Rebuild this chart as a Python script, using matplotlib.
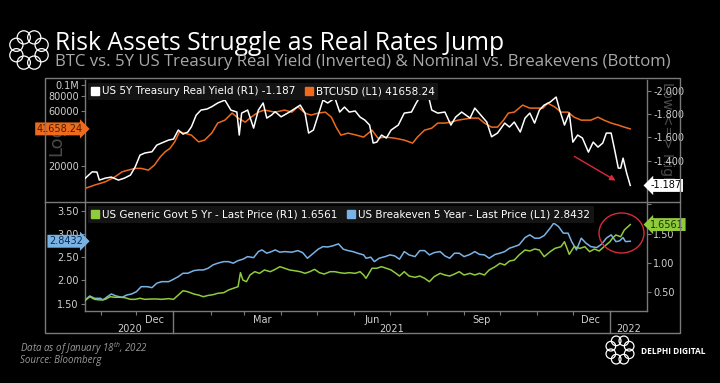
import numpy as np
import pandas as pd
import matplotlib.pyplot as plt
import matplotlib.transforms as mtransforms
from matplotlib.patches import Rectangle, Ellipse, Circle
from matplotlib.lines import Line2D

# ---- data (day offsets from 2020-10-19) ----
START = pd.Timestamp('2020-10-19')

ry_days = [0, 6, 10, 12, 17, 22, 28, 33, 38, 42, 46, 50, 56, 60, 64, 70, 74, 78, 82, 86,
           89, 93, 97, 102, 106, 111, 117, 122, 127, 129, 131, 136, 141, 145, 149, 152, 156,
           159, 164, 171, 180, 184, 187, 191, 195, 199, 203, 209, 213, 217, 221, 226, 230, 234,
           238, 241, 244, 248, 252, 256, 262, 267, 273, 277, 281, 287, 290, 295, 301, 306, 310,
           315, 322, 326, 331, 336, 340, 345, 351, 355, 359, 364, 368, 372, 376, 380, 384, 389,
           394, 397, 401, 405, 408, 412, 416, 421, 425, 429, 433, 436, 440, 443, 446, 448, 450,
           453, 456]
real_yield = [-1.247, -1.304, -1.302, -1.233, -1.25, -1.259, -1.233, -1.25, -1.276, -1.347,
              -1.448, -1.466, -1.477, -1.534, -1.552, -1.578, -1.586, -1.664, -1.629, -1.647,
              -1.692, -1.793, -1.836, -1.845, -1.865, -1.897, -1.922, -1.836, -1.819, -1.621,
              -1.810, -1.836, -1.681, -1.836, -1.897, -1.767, -1.793,
              -1.822, -1.778, -1.819, -1.879, -1.810, -1.638, -1.664, -1.793, -1.922, -1.897,
              -1.940, -1.819, -1.862, -1.819, -1.828, -1.776, -1.750, -1.707, -1.552, -1.560,
              -1.621, -1.595, -1.664, -1.707, -1.810, -1.819, -1.897, -1.966, -1.966, -1.836,
              -1.810, -1.819, -1.707, -1.776, -1.819,
              -1.767, -1.853, -1.793, -1.733, -1.606, -1.638, -1.724, -1.690, -1.733, -1.647,
              -1.767, -1.810, -1.724, -1.836, -1.879, -1.905, -1.948, -1.836, -1.707, -1.810,
              -1.560, -1.621, -1.595, -1.474, -1.560, -1.517, -1.552, -1.638, -1.638, -1.491,
              -1.336, -1.336, -1.422, -1.293, -1.187]

btc_days = [0, 8, 17, 25, 31, 36, 42, 47, 53, 58, 63, 67, 71, 75, 79, 84, 89, 95, 100, 106,
            111, 117, 123, 128, 134, 139, 145, 150, 159,
            167, 173, 178, 184, 189, 195, 201, 206, 210, 214, 220, 227, 233, 240, 245, 251, 259,
            267, 274, 278, 284, 290, 295, 301, 306, 312,
            323, 329, 334, 340, 345, 350, 354, 359, 366, 372, 377, 383, 387, 393, 398, 404, 409,
            415, 423, 429, 434, 440, 446, 451, 456]
btc = [12760, 13650, 14560, 16070, 17750, 18370, 19010, 19010, 18370, 20280, 23930, 26420,
       28250, 32210, 39280, 38110, 36810, 32210, 33340, 38300, 46770, 49560, 57020, 51640,
       47640, 52620, 58110, 60530, 58110,
       60530, 58110, 64580, 57020, 54800, 57020, 58110, 52620, 43150, 36810, 38300, 36810,
       35400, 40640, 34670, 35400, 34670, 33340, 31410, 35400, 40640, 42280, 46770, 46770,
       47640, 49560,
       51640, 51640, 46770, 43150, 43150, 49560, 57020, 58110, 66800, 62950, 62950, 62950,
       69450, 64270, 58110, 58110, 52620, 49560, 49560, 52620, 49560, 46770, 44900, 43150,
       41658.24]

be_days = [0, 4, 8, 13, 15, 18, 22, 26, 31, 35, 39, 43, 47, 52, 56, 60, 64, 70, 74, 78,
           82, 86, 91, 95, 99, 103, 107, 111, 116, 120, 124, 128, 132, 136, 141, 145, 148, 152,
           156, 159,
           163, 167, 173, 178, 182, 186, 191, 195, 199, 203, 207, 212, 216, 220, 224, 228, 233,
           235, 239, 242, 246, 251, 255, 259, 263, 267, 271, 276, 280, 284, 288, 292, 297, 301,
           305, 309, 313, 317,
           322, 326, 330, 334, 338, 343, 347, 351, 355, 359, 363, 368, 372, 376, 380, 384, 389,
           392, 396, 400, 404, 407, 411, 415, 419, 423, 428, 432, 436, 440, 444, 447, 450, 452,
           456]
breakeven = [1.58, 1.666, 1.616, 1.616, 1.58, 1.638, 1.709, 1.666, 1.638, 1.687, 1.709, 1.759,
             1.866, 1.866, 1.845, 1.94, 1.974, 1.974, 2.026, 2.082, 2.155, 2.155, 2.211, 2.226,
             2.226, 2.263, 2.334, 2.371, 2.405, 2.405, 2.371, 2.427, 2.457, 2.513, 2.491, 2.621,
             2.657, 2.586, 2.621, 2.657,
             2.608, 2.621, 2.608, 2.642, 2.599, 2.478, 2.586, 2.672, 2.728, 2.72, 2.743, 2.787,
             2.672, 2.642, 2.621, 2.586, 2.55, 2.478, 2.5, 2.405, 2.478, 2.513, 2.55, 2.528,
             2.457, 2.621, 2.55, 2.513, 2.642, 2.642, 2.55, 2.599, 2.621, 2.528, 2.478, 2.586,
             2.586, 2.513,
             2.56, 2.621, 2.56, 2.55, 2.478, 2.56, 2.586, 2.621, 2.694, 2.728, 2.765, 2.922,
             2.981, 2.909, 2.909, 2.966, 3.125, 3.233, 3.16, 3.017, 3.017, 2.836, 2.657, 2.909,
             2.802, 2.728, 2.707, 2.78, 2.909, 2.981, 2.836, 2.85, 2.922, 2.836, 2.8432]

nom_days = [0, 4, 8, 13, 17, 21, 25, 29, 33, 38, 42, 46, 50, 56, 60, 64, 70, 74, 78, 82,
            86, 91, 95, 99, 103, 107, 111, 116, 120, 124, 128, 130, 132, 135, 138, 142, 146,
            150, 155, 159,
            163, 167, 171, 175, 180, 184, 188, 192, 196, 200, 205, 209, 213, 217, 221, 226, 230,
            233, 235, 240, 244, 248, 252, 256, 260, 263, 267, 271, 276, 280, 284, 288, 292, 297,
            301, 305, 309, 313, 317,
            322, 326, 330, 334, 338, 343, 347, 351, 355, 359, 363, 368, 372, 376, 380, 384, 389,
            393, 398, 401, 405, 409, 414, 418, 422, 426, 430, 434, 439, 441, 444, 448, 451, 456]
nominal = [0.357, 0.425, 0.38, 0.369, 0.38, 0.425, 0.415, 0.415, 0.41, 0.38, 0.38, 0.398,
           0.38, 0.386, 0.386, 0.38, 0.392, 0.38, 0.453, 0.527, 0.51, 0.471, 0.453, 0.425,
           0.447, 0.459, 0.483, 0.493, 0.539, 0.568, 0.596, 0.835, 0.71, 0.681, 0.795, 0.852,
           0.824, 0.881, 0.852, 0.892,
           0.937, 0.91, 0.881, 0.869, 0.852, 0.824, 0.852, 0.892, 0.835, 0.812, 0.852, 0.852,
           0.835, 0.824, 0.835, 0.824, 0.852, 0.795, 0.739, 0.91, 0.91, 0.937, 0.91, 0.881,
           0.824, 0.778, 0.852, 0.778, 0.756, 0.778, 0.739, 0.681, 0.767, 0.824, 0.795, 0.778,
           0.812, 0.852, 0.795,
           0.824, 0.795, 0.824, 0.795, 0.881, 0.937, 0.995, 0.966, 1.034, 1.05, 1.137, 1.222,
           1.205, 1.239, 1.222, 1.108, 1.193, 1.25, 1.278, 1.363, 1.148, 1.278, 1.25, 1.278,
           1.193, 1.239, 1.205, 1.278, 1.363, 1.42, 1.478, 1.448, 1.563, 1.6561]

# tick values; labels hidden behind the last-value tags are left blank
btc_ticks = [20000, 40000, 60000, 80000, 100000]
btc_labels = ['20000', '', '60000', '80000', '0.1M']
ry_ticks = [-2.0, -1.8, -1.6, -1.4, -1.2]
ry_labels = ['-2.000', '-1.800', '-1.600', '-1.400', '']
be_ticks = [1.5, 2.0, 2.5, 3.0, 3.5]
nom_ticks = [0.5, 1.0, 1.5, 2.0]
month_labels = ['Dec', 'Mar', 'Jun', 'Sep', 'Dec']
month_label_dates = ['2020-12-16', '2021-03-16', '2021-06-16', '2021-09-16', '2021-12-16']
years = ['2020', '2021', '2022']


def to_dates(days):
    return START + pd.to_timedelta(days, unit='D')


W, H = 720, 383
BG = 'black'
GRID = '#7a7a7a'
TXT = '#d0d0d0'
ORANGE = '#ee6a1c'
BLUE = '#79b3e6'
GREEN = '#8fcb3a'
RED = '#d92a3a'
BBG = ['Liberation Sans Narrow', 'DejaVu Sans']
SANS = ['Open Sans', 'DejaVu Sans']

plt.rcParams['font.family'] = BBG


def fx(px):
    return px / W


def fy(py):
    return 1 - py / H


fig = plt.figure(figsize=(7.2, 3.83), dpi=100, facecolor=BG)

# outer Bloomberg box and panel separator
fig.add_artist(Rectangle((fx(45), fy(333)), fx(680) - fx(45), fy(78) - fy(333),
                         transform=fig.transFigure, fill=False, ec=GRID, lw=1))
fig.add_artist(Line2D([fx(45), fx(680)], [fy(201.5), fy(201.5)],
                      transform=fig.transFigure, color=GRID, lw=1))

xmin, xmax = pd.Timestamp('2020-10-19'), pd.Timestamp('2022-02-01')

# ---------------- top panel ----------------
ax1 = fig.add_axes([fx(85), fy(201), fx(647) - fx(85), fy(80) - fy(201)])
ax1.set_facecolor(BG)
ax1.plot(to_dates(btc_days), btc, color=ORANGE, lw=1.1)
ax1.set_yscale('log')
ax1.set_ylim(9950, 110000)
ax1.set_yticks(btc_ticks)
ax1.set_yticklabels(btc_labels)
ax1.yaxis.set_minor_locator(plt.NullLocator())
ax1.set_xlim(xmin, xmax)
ax1.set_xticks([])

ax1r = ax1.twinx()
ax1r.plot(to_dates(ry_days), real_yield, color='white', lw=1.1)
ax1r.set_ylim(-1.053, -2.095)
ax1r.set_yticks(ry_ticks)
ax1r.set_yticklabels(ry_labels)
ax1r.set_xlim(xmin, xmax)

# ---------------- bottom panel ----------------
ax2 = fig.add_axes([fx(85), fy(311), fx(647) - fx(85), fy(203) - fy(311)])
ax2.set_facecolor(BG)
ax2.plot(to_dates(be_days), breakeven, color=BLUE, lw=1.1)
ax2.set_ylim(1.343, 3.666)
ax2.set_yticks(be_ticks)
ax2.set_yticklabels(['%.2f' % v for v in be_ticks])
ax2.set_xlim(xmin, xmax)

ax2r = ax2.twinx()
ax2r.plot(to_dates(nom_days), nominal, color=GREEN, lw=1.1)
ax2r.set_ylim(0.181, 2.024)
ax2r.set_yticks(nom_ticks)
ax2r.set_yticklabels(['%.2f' % v if v < 2 else '' for v in nom_ticks])
ax2r.set_xlim(xmin, xmax)

# x axis: month ticks, quarterly labels, year row
month_starts = pd.date_range('2020-11-01', '2022-01-01', freq='MS')
ax2.set_xticks(month_starts)
ax2.set_xticklabels([])
ax2.set_xticks(pd.to_datetime(month_label_dates), minor=True)
ax2.set_xticklabels(month_labels, minor=True)
ax2.tick_params(axis='x', which='major', length=3, color=GRID)
ax2.tick_params(axis='x', which='minor', length=0, pad=3, labelsize=7, labelcolor=TXT)

bx = mtransforms.blended_transform_factory(ax2.transData, ax2.transAxes)
year_edges = [xmin, pd.Timestamp('2021-01-01'), pd.Timestamp('2022-01-01'), xmax]
for i, yr in enumerate(years):
    mid = year_edges[i] + (year_edges[i + 1] - year_edges[i]) / 2
    ax2.text(mid, -0.165, yr, transform=bx, ha='center', va='center',
             fontsize=7, color=TXT)
for edge in year_edges[1:3]:
    ax2.plot([edge, edge], [0, -0.2], transform=bx, color=GRID, lw=1, clip_on=False)

for ax in (ax1, ax1r, ax2, ax2r):
    for s in ax.spines.values():
        s.set_visible(False)
    ax.tick_params(axis='y', length=3, color=GRID, labelsize=7, labelcolor=TXT, pad=1.5)
for s in (ax1.spines['left'], ax1r.spines['right'], ax2.spines['left'],
          ax2.spines['bottom'], ax2r.spines['right']):
    s.set_visible(True)
    s.set_color(GRID)
    s.set_linewidth(1)


# legends
def sq(c):
    return Line2D([], [], marker='s', linestyle='none', markersize=6,
                  markerfacecolor=c, markeredgecolor=c)


leg_kw = dict(loc='upper left', bbox_to_anchor=(0.0, 1.0), ncol=2, frameon=True,
              fontsize=7.5, handlelength=0.7, handletextpad=0.35, columnspacing=0.9,
              borderpad=0.35, borderaxespad=0.25, labelcolor='white', facecolor='#141414',
              edgecolor='none', framealpha=1)
lg1 = ax1r.legend([sq('white'), sq(ORANGE)],
                  ['US 5Y Treasury Real Yield (R1) -1.187', 'BTCUSD (L1) 41658.24'], **leg_kw)
lg1.get_frame().set_boxstyle('square', pad=0)
lg2 = ax2r.legend([sq(GREEN), sq(BLUE)],
                  ['US Generic Govt 5 Yr - Last Price (R1) 1.6561',
                   'US Breakeven 5 Year - Last Price (L1) 2.8432'], **leg_kw)
lg2.get_frame().set_boxstyle('square', pad=0)


# last-value tags
def tag(ax, side, value, text, fc, tc):
    tr = mtransforms.blended_transform_factory(ax.transAxes, ax.transData)
    if side == 'left':
        ax.text(-0.004, value, text, transform=tr, ha='right', va='center', fontsize=7,
                color=tc, zorder=5, clip_on=False,
                bbox=dict(boxstyle='rarrow,pad=0.15', fc=fc, ec='none'))
    else:
        ax.text(1.006, value, text, transform=tr, ha='left', va='center', fontsize=7,
                color=tc, zorder=5, clip_on=False,
                bbox=dict(boxstyle='larrow,pad=0.15', fc=fc, ec='none'))


tag(ax1, 'left', btc[-1], '41658.24', ORANGE, '#4a1d00')
tag(ax1r, 'right', real_yield[-1], '-1.187', 'white', 'black')
tag(ax2, 'left', breakeven[-1], '2.8432', BLUE, '#0e2a4a')
tag(ax2r, 'right', nominal[-1], '1.6561', GREEN, '#1d3300')

# faded axis watermarks
ax1.text(fx(56), fy(140), 'Log', transform=fig.transFigure, rotation=90, ha='center',
         va='center', fontsize=13, color='#4a4a4a', zorder=2, clip_on=False)
ax1r.text(fx(667), fy(133), 'Low <=> High', transform=fig.transFigure, rotation=-90,
          ha='center', va='center', fontsize=10, color='#4a4a4a', zorder=1, clip_on=False)

# red annotations
ax1r.annotate('', xy=(fx(618), fy(182)), xytext=(fx(572), fy(155)),
              xycoords='figure fraction', textcoords='figure fraction',
              arrowprops=dict(arrowstyle='-|>', color=RED, lw=1.0, mutation_scale=8))
fig.add_artist(Ellipse((fx(621.5), fy(233)), fx(45), 40 / H, transform=fig.transFigure,
                       fill=False, ec=RED, lw=1.0))

# title block
fig.text(fx(55), fy(43), 'Risk Assets Struggle as Real Rates Jump', ha='left', va='center',
         fontsize=17.7, color='white', family=SANS)
fig.text(fx(55), fy(62),
         'BTC vs. 5Y US Treasury Real Yield (Inverted) & Nominal vs. Breakevens (Bottom)',
         ha='left', va='center', fontsize=12.1, color='#a8a8a8', family=SANS)

# footer
fig.text(fx(20), fy(349), r'Data as of January 18$^{\mathregular{th}}$, 2022', ha='left',
         va='center', fontsize=7, style='italic', color='#9a9a9a', family=SANS)
fig.text(fx(20), fy(360), 'Source: Bloomberg', ha='left', va='center', fontsize=7,
         style='italic', color='#9a9a9a', family=SANS)
fig.text(fx(641), fy(352), 'DELPHI DIGITAL', ha='left', va='center', fontsize=6,
         weight='bold', color='white', family=SANS)


# logos
def logo(cx, cy, R):
    la = fig.add_axes([fx(cx - R), fy(cy + R), 2 * R / W, 2 * R / H])
    la.set_xlim(-1, 1)
    la.set_ylim(-1, 1)
    la.set_aspect('equal')
    la.axis('off')
    for k in range(8):
        a = k * np.pi / 4 + np.pi / 8
        la.add_patch(Circle((0.62 * np.cos(a), 0.62 * np.sin(a)), 0.3, fill=False,
                            ec='white', lw=0.9))


logo(29, 50, 22)
logo(620, 350, 16)

fig.savefig('out.png', dpi=100, facecolor=BG)
